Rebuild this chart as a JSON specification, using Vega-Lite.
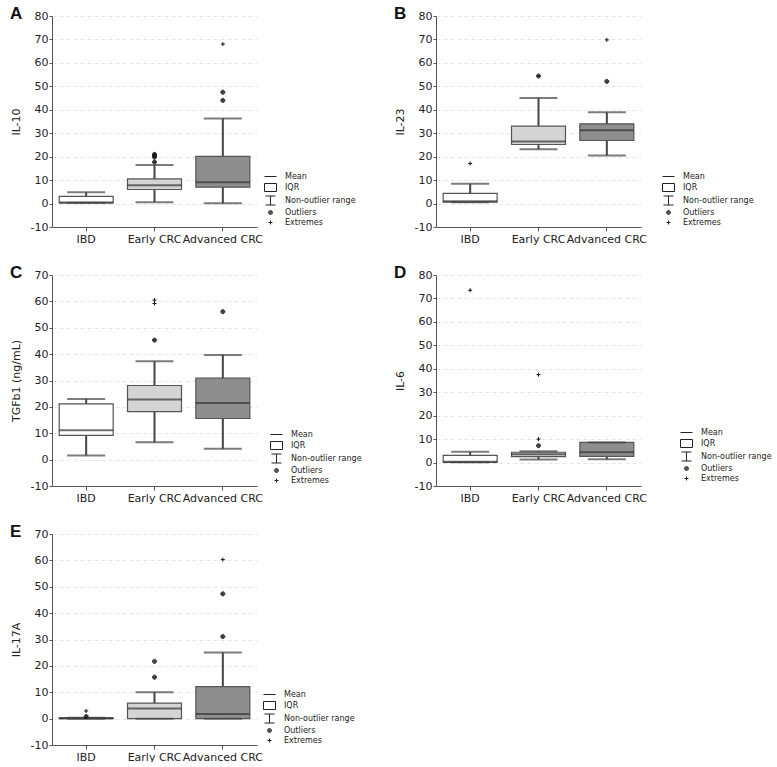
{
  "$schema": "https://vega.github.io/schema/vega-lite/v6.json",
  "padding": {"left": 10, "top": 5, "right": 0, "bottom": 0},
  "datasets": {
    "boxes": [
      {"panel": "A", "group": "IBD", "lo": 0.3, "q1": 0.3, "median": 0.5, "q3": 3.1, "hi": 4.8},
      {"panel": "A", "group": "Early CRC", "lo": 0.6, "q1": 6.0, "median": 7.8, "q3": 10.5, "hi": 16.4},
      {"panel": "A", "group": "Advanced CRC", "lo": 0.1, "q1": 7.0, "median": 9.1, "q3": 20.1, "hi": 36.3},
      {"panel": "B", "group": "IBD", "lo": 0.6, "q1": 0.6, "median": 1.0, "q3": 4.3, "hi": 8.4},
      {"panel": "B", "group": "Early CRC", "lo": 23.2, "q1": 25.2, "median": 26.5, "q3": 33.0, "hi": 45.0},
      {"panel": "B", "group": "Advanced CRC", "lo": 20.5, "q1": 26.9, "median": 31.3, "q3": 34.0, "hi": 38.9},
      {"panel": "C", "group": "IBD", "lo": 1.6, "q1": 9.2, "median": 11.1, "q3": 21.1, "hi": 23.0},
      {"panel": "C", "group": "Early CRC", "lo": 6.6, "q1": 18.2, "median": 22.8, "q3": 28.1, "hi": 37.3},
      {"panel": "C", "group": "Advanced CRC", "lo": 4.1, "q1": 15.6, "median": 21.5, "q3": 30.9, "hi": 39.7},
      {"panel": "D", "group": "IBD", "lo": 0.1, "q1": 0.1, "median": 0.3, "q3": 3.1, "hi": 4.6},
      {"panel": "D", "group": "Early CRC", "lo": 1.3, "q1": 2.5, "median": 3.5, "q3": 4.4, "hi": 4.8},
      {"panel": "D", "group": "Advanced CRC", "lo": 1.4, "q1": 2.6, "median": 4.4, "q3": 8.6, "hi": 8.6},
      {"panel": "E", "group": "IBD", "lo": 0.0, "q1": 0.0, "median": 0.1, "q3": 0.3, "hi": 0.3},
      {"panel": "E", "group": "Early CRC", "lo": 0.0, "q1": 0.0, "median": 3.8, "q3": 5.9, "hi": 10.0},
      {"panel": "E", "group": "Advanced CRC", "lo": 0.0, "q1": 0.0, "median": 1.8, "q3": 12.1, "hi": 25.1}
    ],
    "points": [
      {"panel": "A", "group": "Early CRC", "value": 17.7, "kind": "Outliers"},
      {"panel": "A", "group": "Early CRC", "value": 19.8, "kind": "Outliers"},
      {"panel": "A", "group": "Early CRC", "value": 20.5, "kind": "Outliers"},
      {"panel": "A", "group": "Early CRC", "value": 21.0, "kind": "Outliers"},
      {"panel": "A", "group": "Advanced CRC", "value": 44.0, "kind": "Outliers"},
      {"panel": "A", "group": "Advanced CRC", "value": 47.5, "kind": "Outliers"},
      {"panel": "A", "group": "Advanced CRC", "value": 68.0, "kind": "Extremes"},
      {"panel": "B", "group": "IBD", "value": 17.1, "kind": "Extremes"},
      {"panel": "B", "group": "Early CRC", "value": 54.4, "kind": "Outliers"},
      {"panel": "B", "group": "Advanced CRC", "value": 52.1, "kind": "Outliers"},
      {"panel": "B", "group": "Advanced CRC", "value": 69.8, "kind": "Extremes"},
      {"panel": "C", "group": "Early CRC", "value": 45.3, "kind": "Outliers"},
      {"panel": "C", "group": "Early CRC", "value": 59.2, "kind": "Extremes"},
      {"panel": "C", "group": "Early CRC", "value": 60.5, "kind": "Extremes"},
      {"panel": "C", "group": "Advanced CRC", "value": 56.1, "kind": "Outliers"},
      {"panel": "D", "group": "IBD", "value": 73.5, "kind": "Extremes"},
      {"panel": "D", "group": "Early CRC", "value": 7.2, "kind": "Outliers"},
      {"panel": "D", "group": "Early CRC", "value": 10.0, "kind": "Extremes"},
      {"panel": "D", "group": "Early CRC", "value": 37.5, "kind": "Extremes"},
      {"panel": "E", "group": "IBD", "value": 0.8, "kind": "Outliers"},
      {"panel": "E", "group": "IBD", "value": 2.9, "kind": "Extremes"},
      {"panel": "E", "group": "Early CRC", "value": 15.7, "kind": "Outliers"},
      {"panel": "E", "group": "Early CRC", "value": 21.7, "kind": "Outliers"},
      {"panel": "E", "group": "Advanced CRC", "value": 31.1, "kind": "Outliers"},
      {"panel": "E", "group": "Advanced CRC", "value": 47.3, "kind": "Outliers"},
      {"panel": "E", "group": "Advanced CRC", "value": 60.3, "kind": "Extremes"}
    ]
  },
  "columns": 2,
  "align": "each",
  "spacing": {"row": 20, "column": 32},
  "resolve": {"scale": {"shape": "independent"}, "legend": {"shape": "independent"}},
  "concat": [
    {
      "width": 205, "height": 211,
      "title": {"text": "A"},
      "layer": [
        {"data": {"name": "boxes"}, "transform": [{"filter": "datum.panel === 'A'"}],
         "encoding": {"x": {"field": "group", "type": "nominal", "title": null, "sort": ["IBD", "Early CRC", "Advanced CRC"], "scale": {"domain": ["IBD", "Early CRC", "Advanced CRC"], "paddingInner": 0, "paddingOuter": 0}}},
         "layer": [
          {"mark": {"type": "rule", "stroke": "#444", "strokeWidth": 2}, "encoding": {"y": {"field": "lo", "type": "quantitative", "title": "IL-10", "scale": {"domain": [-10, 80], "nice": false, "zero": false}, "axis": {"values": [-10, 0, 10, 20, 30, 40, 50, 60, 70, 80]}}, "y2": {"field": "hi"}}},
          {"mark": {"type": "bar", "width": {"band": 0.79}, "stroke": "#555", "strokeWidth": 1.2}, "encoding": {"y": {"field": "q1", "type": "quantitative", "title": "IL-10"}, "y2": {"field": "q3"}, "fill": {"field": "group", "type": "nominal", "scale": {"domain": ["IBD", "Early CRC", "Advanced CRC"], "range": ["#ffffff", "#d4d4d4", "#8e8e8e"]}, "legend": null}}},
          {"mark": {"type": "tick", "size": 54, "thickness": 2, "color": "#333"}, "encoding": {"y": {"field": "median", "type": "quantitative", "title": "IL-10"}}},
          {"mark": {"type": "tick", "size": 38, "thickness": 2, "color": "#444"}, "encoding": {"y": {"field": "lo", "type": "quantitative", "title": "IL-10"}}},
          {"mark": {"type": "tick", "size": 38, "thickness": 2, "color": "#444"}, "encoding": {"y": {"field": "hi", "type": "quantitative", "title": "IL-10"}}}
         ]},
        {"data": {"name": "points"}, "transform": [{"filter": "datum.panel === 'A'"}],
         "mark": {"type": "point", "filled": false, "size": 100, "color": "#111", "strokeWidth": 1, "opacity": 1},
         "encoding": {
           "x": {"field": "group", "type": "nominal", "title": null, "sort": ["IBD", "Early CRC", "Advanced CRC"]},
           "y": {"field": "value", "type": "quantitative", "title": "IL-10"},
           "shape": {"field": "kind", "type": "nominal", "scale": {"domain": ["Mean", "IQR", "Non-outlier range", "Outliers", "Extremes"], "range": ["M-1.2,0H1.2", "M-1.2,-0.8H1.2V0.8H-1.2Z", "M-1,-0.9H1M0,-0.9V0.9M-1,0.9H1", "M-0.4,0A0.4,0.4 0 1,0 0.4,0A0.4,0.4 0 1,0 -0.4,0ZM-0.25,0A0.25,0.25 0 1,0 0.25,0A0.25,0.25 0 1,0 -0.25,0ZM-0.1,0A0.1,0.1 0 1,0 0.1,0A0.1,0.1 0 1,0 -0.1,0Z", "M-0.4,0H0.4M0,-0.4V0.4"]},
             "legend": {"legendX": 213, "legendY": 155}}
         }}
      ]
    },
    {
      "width": 205, "height": 211,
      "title": {"text": "B"},
      "layer": [
        {"data": {"name": "boxes"}, "transform": [{"filter": "datum.panel === 'B'"}],
         "encoding": {"x": {"field": "group", "type": "nominal", "title": null, "sort": ["IBD", "Early CRC", "Advanced CRC"], "scale": {"domain": ["IBD", "Early CRC", "Advanced CRC"], "paddingInner": 0, "paddingOuter": 0}}},
         "layer": [
          {"mark": {"type": "rule", "stroke": "#444", "strokeWidth": 2}, "encoding": {"y": {"field": "lo", "type": "quantitative", "title": "IL-23", "scale": {"domain": [-10, 80], "nice": false, "zero": false}, "axis": {"values": [-10, 0, 10, 20, 30, 40, 50, 60, 70, 80]}}, "y2": {"field": "hi"}}},
          {"mark": {"type": "bar", "width": {"band": 0.79}, "stroke": "#555", "strokeWidth": 1.2}, "encoding": {"y": {"field": "q1", "type": "quantitative", "title": "IL-23"}, "y2": {"field": "q3"}, "fill": {"field": "group", "type": "nominal", "scale": {"domain": ["IBD", "Early CRC", "Advanced CRC"], "range": ["#ffffff", "#d4d4d4", "#8e8e8e"]}, "legend": null}}},
          {"mark": {"type": "tick", "size": 54, "thickness": 2, "color": "#333"}, "encoding": {"y": {"field": "median", "type": "quantitative", "title": "IL-23"}}},
          {"mark": {"type": "tick", "size": 38, "thickness": 2, "color": "#444"}, "encoding": {"y": {"field": "lo", "type": "quantitative", "title": "IL-23"}}},
          {"mark": {"type": "tick", "size": 38, "thickness": 2, "color": "#444"}, "encoding": {"y": {"field": "hi", "type": "quantitative", "title": "IL-23"}}}
         ]},
        {"data": {"name": "points"}, "transform": [{"filter": "datum.panel === 'B'"}],
         "mark": {"type": "point", "filled": false, "size": 100, "color": "#111", "strokeWidth": 1, "opacity": 1},
         "encoding": {
           "x": {"field": "group", "type": "nominal", "title": null, "sort": ["IBD", "Early CRC", "Advanced CRC"]},
           "y": {"field": "value", "type": "quantitative", "title": "IL-23"},
           "shape": {"field": "kind", "type": "nominal", "scale": {"domain": ["Mean", "IQR", "Non-outlier range", "Outliers", "Extremes"], "range": ["M-1.2,0H1.2", "M-1.2,-0.8H1.2V0.8H-1.2Z", "M-1,-0.9H1M0,-0.9V0.9M-1,0.9H1", "M-0.4,0A0.4,0.4 0 1,0 0.4,0A0.4,0.4 0 1,0 -0.4,0ZM-0.25,0A0.25,0.25 0 1,0 0.25,0A0.25,0.25 0 1,0 -0.25,0ZM-0.1,0A0.1,0.1 0 1,0 0.1,0A0.1,0.1 0 1,0 -0.1,0Z", "M-0.4,0H0.4M0,-0.4V0.4"]},
             "legend": {"legendX": 227, "legendY": 155}}
         }}
      ]
    },
    {
      "width": 205, "height": 211,
      "title": {"text": "C"},
      "layer": [
        {"data": {"name": "boxes"}, "transform": [{"filter": "datum.panel === 'C'"}],
         "encoding": {"x": {"field": "group", "type": "nominal", "title": null, "sort": ["IBD", "Early CRC", "Advanced CRC"], "scale": {"domain": ["IBD", "Early CRC", "Advanced CRC"], "paddingInner": 0, "paddingOuter": 0}}},
         "layer": [
          {"mark": {"type": "rule", "stroke": "#444", "strokeWidth": 2}, "encoding": {"y": {"field": "lo", "type": "quantitative", "title": "TGFb1 (ng/mL)", "scale": {"domain": [-10, 70], "nice": false, "zero": false}, "axis": {"values": [-10, 0, 10, 20, 30, 40, 50, 60, 70]}}, "y2": {"field": "hi"}}},
          {"mark": {"type": "bar", "width": {"band": 0.79}, "stroke": "#555", "strokeWidth": 1.2}, "encoding": {"y": {"field": "q1", "type": "quantitative", "title": "TGFb1 (ng/mL)"}, "y2": {"field": "q3"}, "fill": {"field": "group", "type": "nominal", "scale": {"domain": ["IBD", "Early CRC", "Advanced CRC"], "range": ["#ffffff", "#d4d4d4", "#8e8e8e"]}, "legend": null}}},
          {"mark": {"type": "tick", "size": 54, "thickness": 2, "color": "#333"}, "encoding": {"y": {"field": "median", "type": "quantitative", "title": "TGFb1 (ng/mL)"}}},
          {"mark": {"type": "tick", "size": 38, "thickness": 2, "color": "#444"}, "encoding": {"y": {"field": "lo", "type": "quantitative", "title": "TGFb1 (ng/mL)"}}},
          {"mark": {"type": "tick", "size": 38, "thickness": 2, "color": "#444"}, "encoding": {"y": {"field": "hi", "type": "quantitative", "title": "TGFb1 (ng/mL)"}}}
         ]},
        {"data": {"name": "points"}, "transform": [{"filter": "datum.panel === 'C'"}],
         "mark": {"type": "point", "filled": false, "size": 100, "color": "#111", "strokeWidth": 1, "opacity": 1},
         "encoding": {
           "x": {"field": "group", "type": "nominal", "title": null, "sort": ["IBD", "Early CRC", "Advanced CRC"]},
           "y": {"field": "value", "type": "quantitative", "title": "TGFb1 (ng/mL)"},
           "shape": {"field": "kind", "type": "nominal", "scale": {"domain": ["Mean", "IQR", "Non-outlier range", "Outliers", "Extremes"], "range": ["M-1.2,0H1.2", "M-1.2,-0.8H1.2V0.8H-1.2Z", "M-1,-0.9H1M0,-0.9V0.9M-1,0.9H1", "M-0.4,0A0.4,0.4 0 1,0 0.4,0A0.4,0.4 0 1,0 -0.4,0ZM-0.25,0A0.25,0.25 0 1,0 0.25,0A0.25,0.25 0 1,0 -0.25,0ZM-0.1,0A0.1,0.1 0 1,0 0.1,0A0.1,0.1 0 1,0 -0.1,0Z", "M-0.4,0H0.4M0,-0.4V0.4"]},
             "legend": {"legendX": 219, "legendY": 154}}
         }}
      ]
    },
    {
      "width": 205, "height": 211,
      "title": {"text": "D"},
      "layer": [
        {"data": {"name": "boxes"}, "transform": [{"filter": "datum.panel === 'D'"}],
         "encoding": {"x": {"field": "group", "type": "nominal", "title": null, "sort": ["IBD", "Early CRC", "Advanced CRC"], "scale": {"domain": ["IBD", "Early CRC", "Advanced CRC"], "paddingInner": 0, "paddingOuter": 0}}},
         "layer": [
          {"mark": {"type": "rule", "stroke": "#444", "strokeWidth": 2}, "encoding": {"y": {"field": "lo", "type": "quantitative", "title": "IL-6", "scale": {"domain": [-10, 80], "nice": false, "zero": false}, "axis": {"values": [-10, 0, 10, 20, 30, 40, 50, 60, 70, 80]}}, "y2": {"field": "hi"}}},
          {"mark": {"type": "bar", "width": {"band": 0.79}, "stroke": "#555", "strokeWidth": 1.2}, "encoding": {"y": {"field": "q1", "type": "quantitative", "title": "IL-6"}, "y2": {"field": "q3"}, "fill": {"field": "group", "type": "nominal", "scale": {"domain": ["IBD", "Early CRC", "Advanced CRC"], "range": ["#ffffff", "#d4d4d4", "#8e8e8e"]}, "legend": null}}},
          {"mark": {"type": "tick", "size": 54, "thickness": 2, "color": "#333"}, "encoding": {"y": {"field": "median", "type": "quantitative", "title": "IL-6"}}},
          {"mark": {"type": "tick", "size": 38, "thickness": 2, "color": "#444"}, "encoding": {"y": {"field": "lo", "type": "quantitative", "title": "IL-6"}}},
          {"mark": {"type": "tick", "size": 38, "thickness": 2, "color": "#444"}, "encoding": {"y": {"field": "hi", "type": "quantitative", "title": "IL-6"}}}
         ]},
        {"data": {"name": "points"}, "transform": [{"filter": "datum.panel === 'D'"}],
         "mark": {"type": "point", "filled": false, "size": 100, "color": "#111", "strokeWidth": 1, "opacity": 1},
         "encoding": {
           "x": {"field": "group", "type": "nominal", "title": null, "sort": ["IBD", "Early CRC", "Advanced CRC"]},
           "y": {"field": "value", "type": "quantitative", "title": "IL-6"},
           "shape": {"field": "kind", "type": "nominal", "scale": {"domain": ["Mean", "IQR", "Non-outlier range", "Outliers", "Extremes"], "range": ["M-1.2,0H1.2", "M-1.2,-0.8H1.2V0.8H-1.2Z", "M-1,-0.9H1M0,-0.9V0.9M-1,0.9H1", "M-0.4,0A0.4,0.4 0 1,0 0.4,0A0.4,0.4 0 1,0 -0.4,0ZM-0.25,0A0.25,0.25 0 1,0 0.25,0A0.25,0.25 0 1,0 -0.25,0ZM-0.1,0A0.1,0.1 0 1,0 0.1,0A0.1,0.1 0 1,0 -0.1,0Z", "M-0.4,0H0.4M0,-0.4V0.4"]},
             "legend": {"legendX": 245, "legendY": 152}}
         }}
      ]
    },
    {
      "width": 205, "height": 211,
      "title": {"text": "E"},
      "layer": [
        {"data": {"name": "boxes"}, "transform": [{"filter": "datum.panel === 'E'"}],
         "encoding": {"x": {"field": "group", "type": "nominal", "title": null, "sort": ["IBD", "Early CRC", "Advanced CRC"], "scale": {"domain": ["IBD", "Early CRC", "Advanced CRC"], "paddingInner": 0, "paddingOuter": 0}}},
         "layer": [
          {"mark": {"type": "rule", "stroke": "#444", "strokeWidth": 2}, "encoding": {"y": {"field": "lo", "type": "quantitative", "title": "IL-17A", "scale": {"domain": [-10, 70], "nice": false, "zero": false}, "axis": {"values": [-10, 0, 10, 20, 30, 40, 50, 60, 70]}}, "y2": {"field": "hi"}}},
          {"mark": {"type": "bar", "width": {"band": 0.79}, "stroke": "#555", "strokeWidth": 1.2}, "encoding": {"y": {"field": "q1", "type": "quantitative", "title": "IL-17A"}, "y2": {"field": "q3"}, "fill": {"field": "group", "type": "nominal", "scale": {"domain": ["IBD", "Early CRC", "Advanced CRC"], "range": ["#ffffff", "#d4d4d4", "#8e8e8e"]}, "legend": null}}},
          {"mark": {"type": "tick", "size": 54, "thickness": 2, "color": "#333"}, "encoding": {"y": {"field": "median", "type": "quantitative", "title": "IL-17A"}}},
          {"mark": {"type": "tick", "size": 38, "thickness": 2, "color": "#444"}, "encoding": {"y": {"field": "lo", "type": "quantitative", "title": "IL-17A"}}},
          {"mark": {"type": "tick", "size": 38, "thickness": 2, "color": "#444"}, "encoding": {"y": {"field": "hi", "type": "quantitative", "title": "IL-17A"}}}
         ]},
        {"data": {"name": "points"}, "transform": [{"filter": "datum.panel === 'E'"}],
         "mark": {"type": "point", "filled": false, "size": 100, "color": "#111", "strokeWidth": 1, "opacity": 1},
         "encoding": {
           "x": {"field": "group", "type": "nominal", "title": null, "sort": ["IBD", "Early CRC", "Advanced CRC"]},
           "y": {"field": "value", "type": "quantitative", "title": "IL-17A"},
           "shape": {"field": "kind", "type": "nominal", "scale": {"domain": ["Mean", "IQR", "Non-outlier range", "Outliers", "Extremes"], "range": ["M-1.2,0H1.2", "M-1.2,-0.8H1.2V0.8H-1.2Z", "M-1,-0.9H1M0,-0.9V0.9M-1,0.9H1", "M-0.4,0A0.4,0.4 0 1,0 0.4,0A0.4,0.4 0 1,0 -0.4,0ZM-0.25,0A0.25,0.25 0 1,0 0.25,0A0.25,0.25 0 1,0 -0.25,0ZM-0.1,0A0.1,0.1 0 1,0 0.1,0A0.1,0.1 0 1,0 -0.1,0Z", "M-0.4,0H0.4M0,-0.4V0.4"]},
             "legend": {"legendX": 212, "legendY": 155}}
         }}
      ]
    }
  ],
  "config": {
    "view": {"stroke": null},
    "font": "DejaVu Sans",
    "title": {"anchor": "start", "frame": "bounds", "orient": "top", "offset": -13, "fontSize": 17, "font": "Liberation Sans", "fontWeight": "bold", "color": "#111"},
    "axis": {"labelFont": "DejaVu Sans", "titleFont": "DejaVu Sans", "labelFontSize": 11, "titleFontSize": 11, "titleFontWeight": "normal", "labelColor": "#222", "titleColor": "#222", "domainColor": "#555", "tickColor": "#555"},
    "axisX": {"grid": false, "labelAngle": 0, "tickSize": 4, "labelPadding": 2},
    "axisY": {"grid": true, "gridColor": "#e6e6e6", "gridDash": [4, 3], "tickSize": 3, "labelPadding": 1, "titlePadding": 9, "labelOverlap": false, "tickCount": 12, "labelExpr": "'' + datum.value"},
    "legend": {
      "orient": "none", "title": null, "padding": 0, "symbolSize": 100, "symbolStrokeWidth": 1, "symbolStrokeColor": "#222", "labelFontSize": 8, "labelFont": "DejaVu Sans", "labelColor": "#222", "rowPadding": 0, "labelOffset": 9
    }
  }
}
